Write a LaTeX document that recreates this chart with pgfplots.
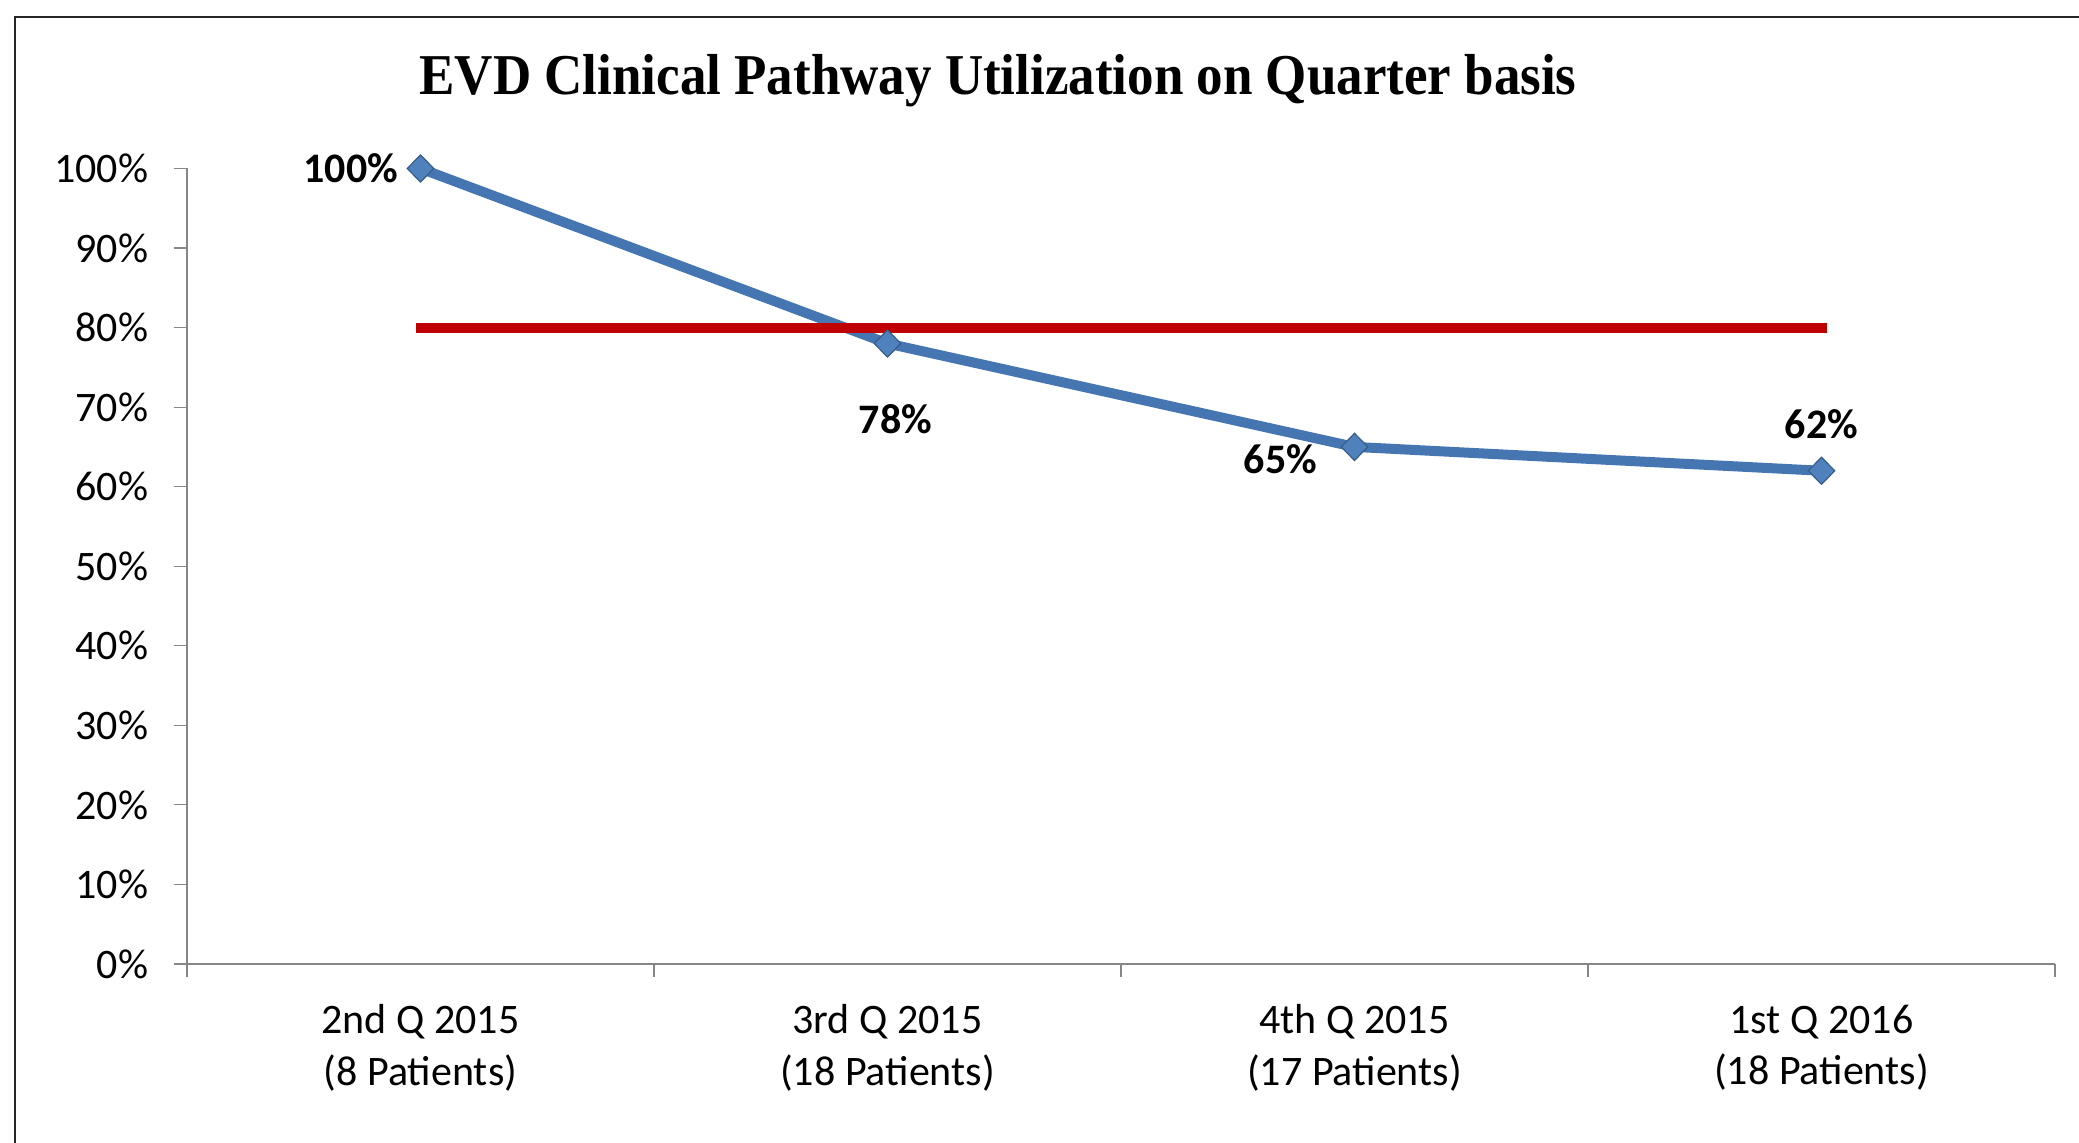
\documentclass[border=0pt]{standalone}
\usepackage{pgfplots}
\pgfplotsset{compat=1.18}
\usepackage{fontspec}
\setmainfont{Carlito}
\newfontfamily\titlefont{Liberation Serif}
\definecolor{evdblue}{RGB}{70,118,178}
\definecolor{evdmark}{RGB}{79,129,189}
\definecolor{evdmarkedge}{RGB}{56,93,138}
\definecolor{evdred}{RGB}{192,0,0}
\definecolor{axgray}{RGB}{134,134,134}
\begin{document}
\begin{tikzpicture}
\path[use as bounding box] (0,0) rectangle (1039.5pt,571.5pt);
\draw[line width=1.2pt, black!85] (7.5pt,-5pt) -- (7.5pt,563pt) -- (1045pt,563pt);
\node[anchor=base, inner sep=0pt, font=\titlefont\bfseries\fontsize{26.5}{30}\selectfont] at (499pt,524pt) {\scalebox{1}[1.09]{EVD Clinical Pathway Utilization on Quarter basis}};
\begin{axis}[
  at={(93.5pt,89.5pt)}, anchor=south west,
  scale only axis, width=934pt, height=397.75pt,
  xmin=-0.5, xmax=3.5, ymin=0, ymax=100,
  axis lines*=left,
  axis line style={draw=axgray, line width=0.6pt},
  tick align=outside,
  major tick length=6.5pt,
  tick style={draw=axgray, line width=0.6pt},
  ytick={0,10,...,100},
  yticklabels={0\%,10\%,20\%,30\%,40\%,50\%,60\%,70\%,80\%,90\%,100\%},
  xtick={-0.5,0.5,1.5,2.5,3.5},
  xticklabels={{2nd Q 2015\\(8 Patients)},{3rd Q 2015\\(18 Patients)},{4th Q 2015\\(17 Patients)},{1st Q 2016\\(18 Patients)}},
  x tick label as interval,
  tick label style={font=\fontsize{21}{25.8}\selectfont},
  xticklabel style={align=center, anchor=north, inner sep=0pt, yshift=-13.7pt},
  yticklabel style={anchor=east, inner sep=0pt, xshift=-12.7pt},
  clip=false,
]
\addplot[evdblue, line width=5pt, no marks] coordinates {(0,100) (1,78) (2,65) (3,62)};
\addplot[evdred, line width=5pt, line cap=rect, no marks] coordinates {(0,80) (1,80) (2,80) (3,80)};
\addplot[only marks, mark=diamond*, mark size=6.8pt, mark options={xscale=1.3, fill=evdmark, draw=evdmarkedge, line width=0.6pt}] coordinates {(0,100) (1,78) (2,65) (3,62)};
\node[anchor=east, inner sep=0pt, font=\bfseries\fontsize{21}{25}\selectfont] at (axis cs:0,100) [xshift=-11pt] {100\%};
\node[inner sep=0pt, font=\bfseries\fontsize{21}{25}\selectfont] at (axis cs:1,78) [xshift=4pt, yshift=-38pt] {78\%};
\node[inner sep=0pt, font=\bfseries\fontsize{21}{25}\selectfont] at (axis cs:2,65) [xshift=-37pt, yshift=-6pt] {65\%};
\node[inner sep=0pt, font=\bfseries\fontsize{21}{25}\selectfont] at (axis cs:3,62) [yshift=23.5pt] {62\%};
\end{axis}
\end{tikzpicture}
\end{document}
